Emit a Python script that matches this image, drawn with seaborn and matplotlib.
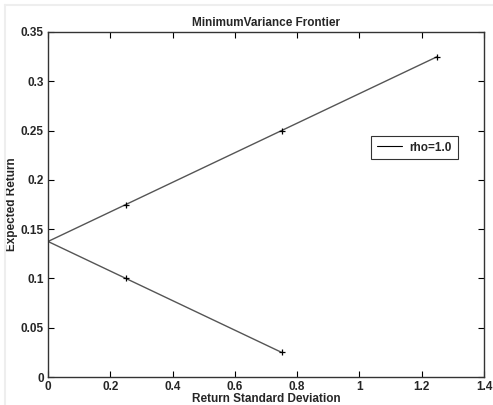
import matplotlib
matplotlib.use("Agg")
import matplotlib.pyplot as plt
import seaborn as sns
import pandas as pd
from matplotlib.lines import Line2D

sns.set_theme(style="white")
plt.rcParams['font.family'] = ['Liberation Sans', 'DejaVu Sans']

# Data (return standard deviation, expected return) along the frontier
std_dev = [0.75, 0.25, 0.0, 0.25, 0.75, 1.25]
exp_ret = [0.025, 0.100, 0.1375, 0.175, 0.250, 0.325]
marker_mask = [True, True, False, True, True, True]

title = "MinimumVariance Frontier"
xlabel = "Return Standard Deviation"
ylabel = "Expected Return"
legend_label = "rho=1.0"
xticks = [0, 0.2, 0.4, 0.6, 0.8, 1.0, 1.2, 1.4]
xticklabels = ["0", "0.2", "0.4", "0.6", "0.8", "1", "1.2", "1.4"]
yticks = [0, 0.05, 0.1, 0.15, 0.2, 0.25, 0.3, 0.35]
yticklabels = ["0", "0.05", "0.1", "0.15", "0.2", "0.25", "0.3", "0.35"]

df = pd.DataFrame({"std": std_dev, "ret": exp_ret, "pt": range(len(std_dev))})
dfm = df[marker_mask]

fig = plt.figure(figsize=(4.93, 4.05), dpi=100)
fig.patch.set_facecolor("white")
ax = fig.add_axes([0.0974, 0.0691, 0.8843, 0.8519])

sns.lineplot(data=df, x="std", y="ret", sort=False, ax=ax, color="#555555",
             linewidth=1.0, estimator=None)
sns.scatterplot(data=dfm, x="std", y="ret", ax=ax, marker="+", color="black",
                s=20, linewidth=0.9, zorder=3)

ax.set_xlim(0, 1.4)
ax.set_ylim(0, 0.35)
ax.set_xticks(xticks)
ax.set_xticklabels(xticklabels)
ax.set_yticks(yticks)
ax.set_yticklabels(yticklabels)

fs = 8.5
for lbl in ax.get_xticklabels() + ax.get_yticklabels():
    lbl.set_fontsize(fs)
    lbl.set_fontweight("bold")
ax.tick_params(direction="in", length=4, width=0.8, color="black",
               top=True, right=True, bottom=True, left=True, pad=3)
for s in ax.spines.values():
    s.set_color("#333333")
    s.set_linewidth(1.0)

ax.set_title(title, fontsize=fs, fontweight="bold", pad=4)
ax.set_xlabel(xlabel, fontsize=fs, fontweight="bold", labelpad=0)
ax.set_ylabel(ylabel, fontsize=fs, fontweight="bold", labelpad=2)

handle = Line2D([], [], color="black", linewidth=0.8)
leg = ax.legend([handle], [legend_label], loc="center", bbox_to_anchor=(0.84, 0.665),
                fontsize=fs, frameon=True, fancybox=False, handlelength=2.2,
                borderpad=0.5, handletextpad=0.6)
leg.get_frame().set_edgecolor("black")
leg.get_frame().set_linewidth(0.8)
for t in leg.get_texts():
    t.set_fontweight("bold")

# faint screenshot frame on top and left
fig.add_artist(Line2D([0.01, 1.0], [0.988, 0.988], transform=fig.transFigure,
                      color="#eeeeee", linewidth=1.5))
fig.add_artist(Line2D([0.01, 0.01], [0.0, 0.988], transform=fig.transFigure,
                      color="#eeeeee", linewidth=1.5))

fig.savefig("out.png", dpi=100, facecolor="white")
